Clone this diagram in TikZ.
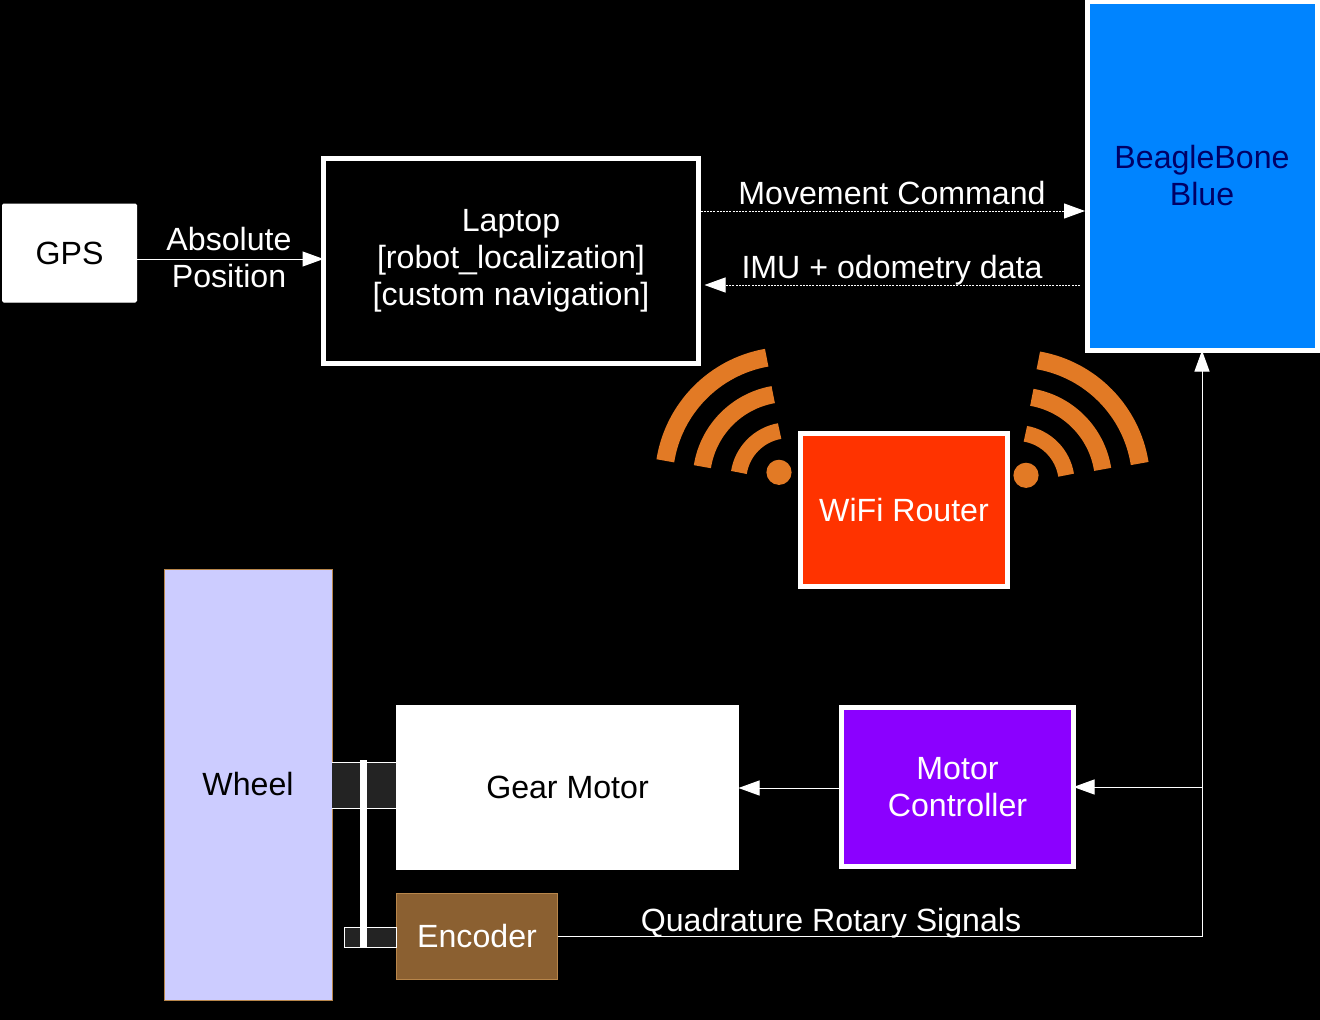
\documentclass[tikz,border=0pt]{standalone}
\usepackage{fontspec}
\setmainfont{Liberation Sans}
\usetikzlibrary{arrows.meta}
\definecolor{bbblue}{HTML}{0084FF}
\definecolor{wifired}{HTML}{FF3300}
\definecolor{mcpurple}{HTML}{8B00FF}
\definecolor{wheelfill}{HTML}{CCCCFF}
\definecolor{wheeledge}{HTML}{B8864B}
\definecolor{encfill}{HTML}{8B6031}
\definecolor{shaftfill}{HTML}{232323}
\definecolor{wifiorange}{HTML}{E27A25}
\definecolor{bbtext}{HTML}{000066}
\tikzset{
  x=0.75pt,y=-0.75pt,
  box/.style 2 args={draw,rectangle,inner sep=0pt,outer sep=0pt,align=center,
    font=\fontsize{24.1pt}{27.75pt}\selectfont,
    minimum width=#1*0.75pt,minimum height=#2*0.75pt},
  thickframe/.style={line width=3.75pt},
  thinframe/.style={line width=0.75pt},
  lbl/.style={text=white,inner sep=0pt,outer sep=0pt,align=center,
    font=\fontsize{24.1pt}{27.75pt}\selectfont},
  link/.style={draw=white,line width=0.75pt,-{Triangle[length=15.75pt,width=11.25pt,fill=white]}},
  plainlink/.style={draw=white,line width=0.75pt},
  dotlink/.style={link,dash pattern=on 1.5pt off 0.9pt},
  wave/.style={draw=wifiorange,line width=12pt,line cap=butt},
}
\newcommand{\wifiwaves}[4]{%
  % centre x, centre y, start angle, end angle
  \begin{scope}[shift={(#1,#2)},x=0.75pt,y=0.75pt]
    \draw[wave] (#3:50) arc[start angle=#3,end angle=#4,radius=50];
    \draw[wave,line width=13pt] (#3:87) arc[start angle=#3,end angle=#4,radius=87];
    \draw[wave,line width=13.5pt] (#3:124.5) arc[start angle=#3,end angle=#4,radius=124.5];
  \end{scope}}
\begin{document}
\begin{tikzpicture}
\useasboundingbox (0,0) rectangle (1320,1020);
\fill[black] (0,0) rectangle (1320,1020);

% boxes
\node[box={134}{98},draw=white,fill=white,text=black,thinframe,rounded corners=1pt] (gps) at (69.5,253) {GPS};
\node[box={375}{205},draw=white,fill=black,text=white,thickframe] (laptop) at (511,261) {Laptop\\{[robot\_localization]}\\{[custom navigation]}};
\node[box={230}{349},draw=white,fill=bbblue,text=bbtext,thickframe] (bb) at (1202,176) {BeagleBone\\Blue};
\node[box={207}{153},draw=white,fill=wifired,text=white,thickframe] (wifi) at (904,510) {WiFi Router};
\node[box={232}{159},draw=white,fill=mcpurple,text=white,thickframe] (mc) at (957.5,787) {Motor\\Controller};
\node[box={168}{431},draw=wheeledge,fill=wheelfill,text=black,thinframe] (wheel) at (248,784.5) {Wheel};
\node[box={342}{164},draw=white,fill=white,text=black,thinframe] (gear) at (567.5,787.5) {Gear Motor};
\node[box={161}{86},draw=wheeledge,fill=encfill,text=white,thinframe] (enc) at (477,936.5) {Encoder};

% shafts
\node[box={64}{46},draw=none,fill=shaftfill] (shaft) at (364,785) {};
\draw[plainlink] (shaft.north west) -- (shaft.north east);
\draw[plainlink] (shaft.south west) -- (shaft.south east);
\node[box={52}{20},draw=white,fill=shaftfill,thinframe] (encshaft) at (370,937) {};
\node[box={7}{187},draw=none,fill=white] (disk) at (363.5,853.5) {};

% wifi waves
\fill[wifiorange] (779,472.3) circle[radius=12.6];
\fill[wifiorange] (1026,475.3) circle[radius=12.6];
\wifiwaves{788.3}{480.3}{171}{100}
\wifiwaves{1016.7}{483}{9}{80}

% connectors
\draw[link] (gps.east |- 0,259) -- (laptop.west |- 0,259);
\draw[dotlink] ([xshift=1.5pt]laptop.east |- 0,211) -- ([xshift=-1.5pt]bb.west |- 0,211);
\draw[dotlink] ([xshift=-5.25pt]bb.west |- 0,285) -- ([xshift=4.5pt]laptop.east |- 0,285);
\coordinate (branch) at (bb.south |- 0,787);
\coordinate (corner) at (bb.south |- 0,936);
\draw[plainlink] (enc.east |- 0,936) -- (corner) -- (branch);
\draw[link] (branch) -- (bb.south);
\draw[link] (branch) -- (mc.east |- 0,787);
\draw[link] (mc.west |- 0,788) -- (gear.east |- 0,788);

% labels
\node[lbl] (abspos) at (229,258) {Absolute\\Position};
\node[lbl] (movecmd) at (892,193) {Movement Command};
\node[lbl] (imu) at (892,270) {IMU + odometry data};
\node[lbl] (quad) at (831,923) {Quadrature Rotary Signals};
\end{tikzpicture}
\end{document}
